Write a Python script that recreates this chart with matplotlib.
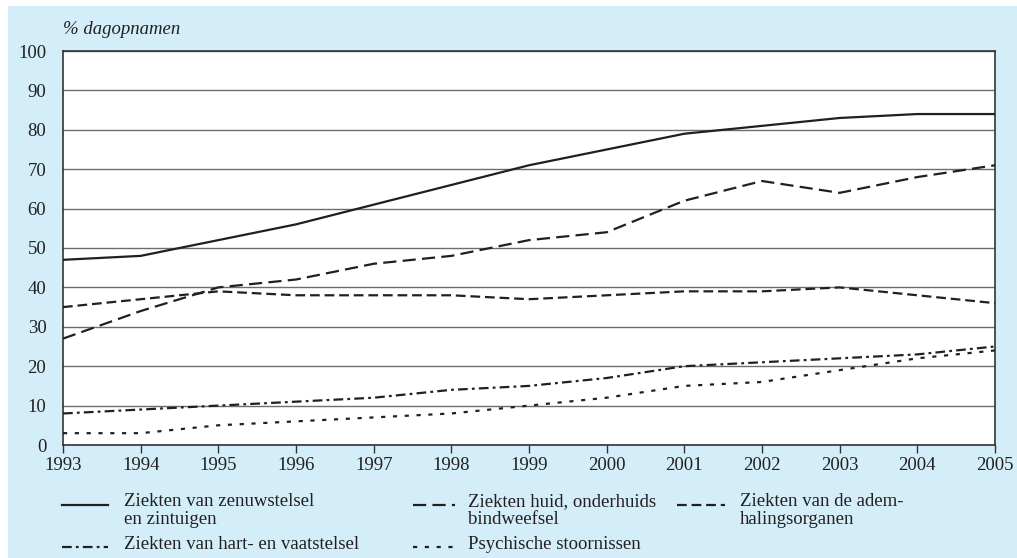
import matplotlib.pyplot as plt
from matplotlib.lines import Line2D
from matplotlib.patches import Rectangle

plt.rcParams['font.family'] = ['Liberation Serif', 'DejaVu Serif']
plt.rcParams['lines.scale_dashes'] = False

years = list(range(1993, 2006))
zenuw = [47, 48, 52, 56, 61, 66, 71, 75, 79, 81, 83, 84, 84]
huid = [27, 34, 40, 42, 46, 48, 52, 54, 62, 67, 64, 68, 71]
adem = [35, 37, 39, 38, 38, 38, 37, 38, 39, 39, 40, 38, 36]
hart = [8, 9, 10, 11, 12, 14, 15, 17, 20, 21, 22, 23, 25]
psych = [3, 3, 5, 6, 7, 8, 10, 12, 15, 16, 19, 22, 24]

labels = ["Ziekten van zenuwstelsel\nen zintuigen",
          "Ziekten huid, onderhuids\nbindweefsel",
          "Ziekten van de adem-\nhalingsorganen",
          "Ziekten van hart- en vaatstelsel",
          "Psychische stoornissen"]
y_ticks = list(range(0, 101, 10))

ink = '#231f20'
styles = [dict(linestyle='-'),
          dict(linestyle=(0, (9.5, 4.5))),
          dict(linestyle=(0, (7, 3.5))),
          dict(linestyle=(0, (7, 3, 2, 3))),
          dict(linestyle=(0, (3, 5.5)))]
series = [zenuw, huid, adem, hart, psych]

W, H = 1017, 558
fig = plt.figure(figsize=(W / 100, H / 100), dpi=100, facecolor='white')
fig.add_artist(Rectangle((8 / W, 0), 1, (H - 6) / H, transform=fig.transFigure,
                         facecolor='#d4eef9', edgecolor='none', zorder=0))

ax = fig.add_axes([63 / W, (H - 445) / H, (995 - 63) / W, (445 - 51) / H])
ax.set_facecolor('white')
for vals, st in zip(series, styles):
    ax.plot(years, vals, color=ink, linewidth=1.6, **st, zorder=3)

ax.set_xlim(1993, 2005)
ax.set_ylim(0, 100)
ax.set_xticks(years)
ax.set_yticks(y_ticks)
ax.tick_params(axis='y', length=0, pad=12, labelsize=13.5, labelcolor=ink)
ax.tick_params(axis='x', length=6, width=1, color='#333333', pad=3,
               labelsize=13.5, labelcolor=ink)
ax.grid(axis='y', color='#6d6d6d', linewidth=1)
ax.set_axisbelow(True)
for sp in ax.spines.values():
    sp.set_color('#333333')
    sp.set_linewidth(1.2)

fig.text(63 / W, 1 - 30 / H, "% dagopnamen", style='italic', fontsize=13.5,
         color=ink, va='center', ha='left')

# legend drawn by hand in pixel positions
leg = [(62, 108, 124, 505, 502),
       (413, 455, 468, 505, 502),
       (677, 725, 740, 505, 502),
       (62, 108, 124, 547, 545),
       (413, 455, 468, 547, 545)]
for (x0, x1, xt, yl, yt), st, lab in zip(leg, styles, labels):
    fig.add_artist(Line2D([x0 / W, x1 / W], [1 - yl / H, 1 - yl / H],
                          transform=fig.transFigure, color=ink, linewidth=1.6, **st))
    fig.text(xt / W, 1 - (yt - 9) / H, lab, fontsize=13.5, color=ink,
             ha='left', va='top', linespacing=1.05)

fig.savefig('out.png', dpi=100, facecolor='white')
